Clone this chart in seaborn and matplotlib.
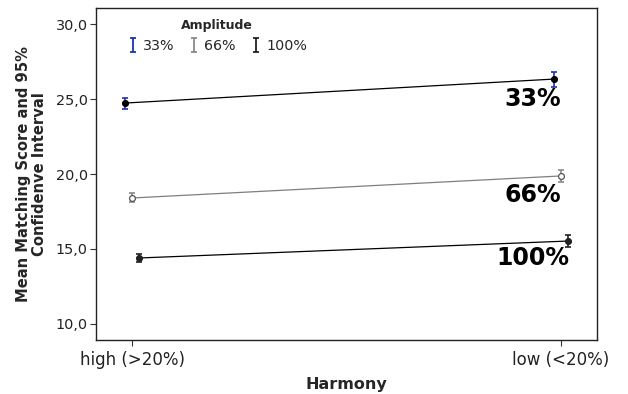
import matplotlib
matplotlib.use("Agg")
import matplotlib.pyplot as plt
from matplotlib.path import Path
from matplotlib.lines import Line2D
import numpy as np
import pandas as pd
import seaborn as sns

# Harmony categories and amplitude groups
harmony = ["high (>20%)", "low (<20%)"]
amplitudes = ["33%", "66%", "100%"]

# Mean matching score per amplitude group (high, low harmony)
mean_33 = [24.73, 26.33]
mean_66 = [18.40, 19.87]
mean_100 = [14.40, 15.53]

# Half-width of the 95% confidence interval
ci_33 = [0.37, 0.50]
ci_66 = [0.30, 0.40]
ci_100 = [0.25, 0.40]

means = {"33%": mean_33, "66%": mean_66, "100%": mean_100}
cis = {"33%": ci_33, "66%": ci_66, "100%": ci_100}

sns.set_theme(style="ticks")
plt.rcParams["font.family"] = ["DejaVu Sans"]

line_col = {"33%": "#000000", "66%": "#7f7f7f", "100%": "#000000"}
bar_col = {"33%": "#1a35b0", "66%": "#8a8a8a", "100%": "#222222"}
face_col = {"33%": "#000000", "66%": "#ffffff", "100%": "#222222"}
edge_col = {"33%": "#000000", "66%": "#555555", "100%": "#222222"}
dodge = {"33%": -0.017, "66%": 0.0, "100%": 0.017}

rows = []
for a in amplitudes:
    for i, h in enumerate(harmony):
        rows.append({"Harmony": h, "pos": i + dodge[a], "Amplitude": a,
                     "score": means[a][i], "ci": cis[a][i]})
df = pd.DataFrame(rows)

fig = plt.figure(figsize=(6.28, 3.94), dpi=100)
ax = fig.add_axes([96 / 628, 1 - 340 / 394, (597 - 96) / 628, (340 - 8) / 394])

sns.lineplot(data=df, x="pos", y="score", hue="Amplitude", palette=line_col,
             estimator=None, linewidth=0.9, legend=False, ax=ax)

for a in amplitudes:
    sub = df[df["Amplitude"] == a]
    ax.errorbar(sub["pos"], sub["score"], yerr=sub["ci"], fmt="none",
                ecolor=bar_col[a], elinewidth=1.2, capsize=2.5, capthick=1.2,
                zorder=3)
    ax.plot(sub["pos"], sub["score"], linestyle="none", marker="o",
            markersize=4.2, markerfacecolor=face_col[a],
            markeredgecolor=edge_col[a], markeredgewidth=0.9, zorder=4)

# Group labels next to the low-harmony points
label_y = {"33%": 25.0, "66%": 18.6, "100%": 14.4}
for a in amplitudes:
    ax.text(0.935, label_y[a], a, ha="center", va="center",
            fontsize=17, fontweight="bold", color="black")

ax.set_xlim(-0.084, 1.084)
ax.set_ylim(8.93, 31.07)
ax.set_xticks([0, 1])
ax.set_xticklabels(harmony)
ax.set_yticks([10, 15, 20, 25, 30])
ax.set_yticklabels(["10,0", "15,0", "20,0", "25,0", "30,0"])
ax.tick_params(axis="both", length=4, width=0.8,
               color="#333333", labelcolor="#222222", direction="out")
ax.tick_params(axis="y", labelsize=10.4, pad=2)
ax.tick_params(axis="x", labelsize=12, pad=4)

ax.set_xlabel("Harmony", fontsize=11.5, fontweight="bold", labelpad=6)
ax.set_ylabel("Mean Matching Score and 95%\nConfidenve Interval",
              fontsize=10.6, fontweight="bold", labelpad=6, linespacing=1.1)

for s in ax.spines.values():
    s.set_visible(True)
    s.set_color("#222222")
    s.set_linewidth(1.0)

# Error-bar style legend glyph
ibar = Path([(-0.5, -1), (0.5, -1), (0, -1), (0, 1), (-0.5, 1), (0.5, 1)],
            [Path.MOVETO, Path.LINETO, Path.MOVETO, Path.LINETO,
             Path.MOVETO, Path.LINETO])
handles = [Line2D([], [], linestyle="none", marker=ibar, markersize=10,
                  markeredgewidth=1.3, color=bar_col[a]) for a in amplitudes]
leg = ax.legend(handles, amplitudes, title="Amplitude", ncol=3,
                loc="upper center", bbox_to_anchor=(217 / 628, 1 - 16 / 394),
                bbox_transform=fig.transFigure, frameon=False,
                fontsize=10.3, title_fontproperties={"weight": "bold", "size": 9},
                handlelength=0.8, handletextpad=0.3, columnspacing=1.0,
                borderaxespad=0, borderpad=0.2)

fig.savefig("out.png", dpi=100)
